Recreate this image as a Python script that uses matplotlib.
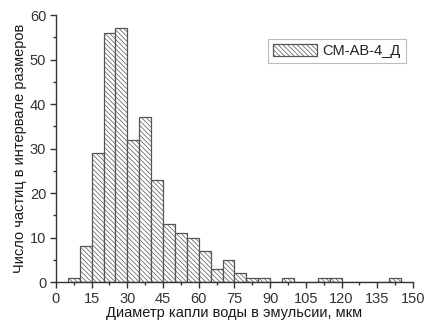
import matplotlib
matplotlib.use("Agg")
import matplotlib.pyplot as plt
from matplotlib.ticker import MultipleLocator

plt.rcParams['font.family'] = ['Liberation Sans', 'DejaVu Sans']
plt.rcParams['hatch.color'] = '#b0b0b0'
plt.rcParams['hatch.linewidth'] = 0.5

# Bin left edges (µm) and counts, bin width 5 µm
bin_left = [5, 10, 15, 20, 25, 30, 35, 40, 45, 50, 55, 60, 65, 70, 75, 80, 85,
            90, 95, 100, 105, 110, 115, 120, 125, 130, 135, 140]
counts = [1, 8, 29, 56, 57, 32, 37, 23, 13, 11, 10, 7, 3, 5, 2, 1, 1,
          0, 1, 0, 0, 1, 1, 0, 0, 0, 0, 1]
bin_width = 5
series_label = 'CM-AB-4_Д'

fig = plt.figure(figsize=(4.27, 3.22), dpi=100)
ax = fig.add_axes([0.131, 0.124, 0.836, 0.829])

ax.bar(bin_left, counts, width=bin_width, align='edge', color='white',
       edgecolor='#555555', linewidth=0.9, hatch='\\' * 7, label=series_label)

ax.set_xlim(0, 150)
ax.set_ylim(0, 60)
ax.xaxis.set_major_locator(MultipleLocator(15))
ax.xaxis.set_minor_locator(MultipleLocator(7.5))
ax.yaxis.set_major_locator(MultipleLocator(10))
ax.yaxis.set_minor_locator(MultipleLocator(5))
for side in ('top', 'right'):
    ax.spines[side].set_visible(False)
for side in ('left', 'bottom'):
    ax.spines[side].set_color('#333333')
    ax.spines[side].set_linewidth(1.0)
ax.tick_params(which='major', direction='out', length=4, width=1, colors='#333333',
               labelsize=10.5, labelcolor='#333333', pad=3)
ax.tick_params(which='minor', direction='out', length=2, width=1, colors='#333333')

ax.set_xlabel('Диаметр капли воды в эмульсии, мкм', fontsize=10.5, color='#1a1a1a', labelpad=0)
ax.set_ylabel('Число частиц в интервале размеров', fontsize=10.5, color='#1a1a1a', labelpad=2)

leg = ax.legend(loc='upper left', bbox_to_anchor=(0.594, 0.91), borderaxespad=0,
                frameon=True, fancybox=False, edgecolor='#aaaaaa', fontsize=10.5,
                handlelength=3.0, handleheight=0.9, borderpad=0.35, handletextpad=0.4)
leg.get_frame().set_linewidth(0.8)
for t in leg.get_texts():
    t.set_color('#222222')

fig.savefig('out.png', dpi=100)
